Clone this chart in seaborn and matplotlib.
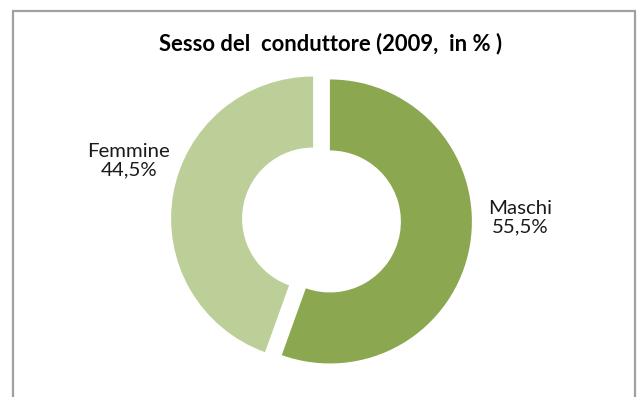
import matplotlib
matplotlib.use("Agg")
import matplotlib.pyplot as plt
from matplotlib.patches import Rectangle
import seaborn as sns

# Data
categories = ["Maschi", "Femmine"]
shares = [55.5, 44.5]
colors = ["#8BA74F", "#BCCF98"]
title = "Sesso del  conduttore (2009,  in % )"

sns.set_theme(style="white")
plt.rcParams["font.family"] = ["Lato", "DejaVu Sans"]

W, H = 639, 397
fig = plt.figure(figsize=(W / 100, H / 100), dpi=100)
fig.patch.set_facecolor("white")

# Chart frame
fig.patches.append(Rectangle((13 / W, -0.05), (635 - 13) / W, (397 - 11) / H + 0.05,
                             transform=fig.transFigure, fill=False,
                             edgecolor="#A0A0A0", linewidth=1.6))

# Donut centre and radius in pixels
cx, cy, R = 321.5, 220.0, 142.0
L = 1.1
ax = fig.add_axes([(cx - L * R) / W, (H - cy - L * R) / H, 2 * L * R / W, 2 * L * R / H])
ax.pie(shares, colors=colors, startangle=90, counterclock=False,
       explode=[0.06, 0.06], radius=1.0,
       wedgeprops=dict(width=0.5, edgecolor="none"))
ax.set_xlim(-L, L)
ax.set_ylim(-L, L)
ax.set_aspect("equal")
ax.axis("off")

# Labels
label_pos = {"Maschi": (520, 218), "Femmine": (129, 161)}
for name, val in zip(categories, shares):
    px, py = label_pos[name]
    txt = f"{name}\n{val:.1f}%".replace(".", ",")
    ax.text((px - cx) / R, (cy - py) / R, txt, ha="center", va="center",
            fontsize=14.7, linespacing=1.12, color="#1a1a1a", clip_on=False)

fig.text(331 / W, 1 - 44 / H, title, ha="center", va="center",
         fontsize=15.8, fontweight="bold", color="black")

fig.savefig("out.png", dpi=100)
